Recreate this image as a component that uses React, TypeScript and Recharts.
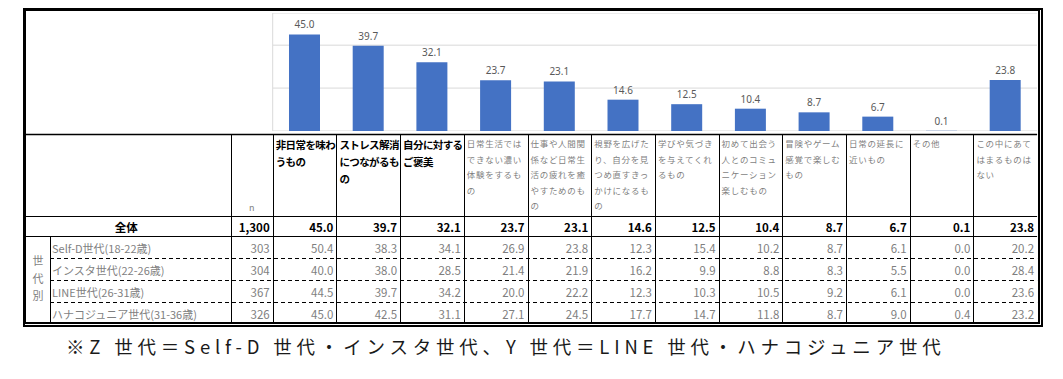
import { BarChart, Bar, XAxis, YAxis, CartesianGrid, LabelList } from 'recharts';

// 回答項目（表の見出し）
const categories = [
  '非日常を味わうもの',
  'ストレス解消につながるもの',
  '自分に対するご褒美',
  '日常生活ではできない濃い体験をするもの',
  '仕事や人間関係など日常生活の疲れを癒やすためのもの',
  '視野を広げたり、自分を見つめ直すきっかけになるもの',
  '学びや気づきを与えてくれるもの',
  '初めて出会う人とのコミュニケーション楽しむもの',
  '冒険やゲーム感覚で楽しむもの',
  '日常の延長に近いもの',
  'その他',
  'この中にあてはまるものはない',
];
const highlightCount = 3;

const totalLabel = '全体';
const totalN = '1,300';
const totalValues = [45.0, 39.7, 32.1, 23.7, 23.1, 14.6, 12.5, 10.4, 8.7, 6.7, 0.1, 23.8];

const groupTitle = '世代別';
const groupLabels = ['Self-D世代(18-22歳)', 'インスタ世代(22-26歳)', 'LINE世代(26-31歳)', 'ハナコジュニア世代(31-36歳)'];
const groupN = [303, 304, 367, 326];
const selfDValues = [50.4, 38.3, 34.1, 26.9, 23.8, 12.3, 15.4, 10.2, 8.7, 6.1, 0.0, 20.2];
const instaValues = [40.0, 38.0, 28.5, 21.4, 21.9, 16.2, 9.9, 8.8, 8.3, 5.5, 0.0, 28.4];
const lineValues = [44.5, 39.7, 34.2, 20.0, 22.2, 12.3, 10.3, 10.5, 9.2, 6.1, 0.0, 23.6];
const hanakoValues = [45.0, 42.5, 31.1, 27.1, 24.5, 17.7, 14.7, 11.8, 8.7, 9.0, 0.4, 23.2];
const groupValues = [selfDValues, instaValues, lineValues, hanakoValues];

const yTicks = [0, 10, 20, 30, 40, 50, 55];
const footnote = '※Z 世代＝Self-D 世代・インスタ世代、Y 世代＝LINE 世代・ハナコジュニア世代';

// layout
const PLOT_L = 272.7;
const COL_W = 63.7;
const PLOT_T = 13;
const PLOT_H = 118;
const TABLE_T = 134;
const HEAD_B = 216;
const TOTAL_B = 236;
const ROW_H = 22;
const TABLE_B = 324;
const SUB_R = 50;
const N_L = 230.7;
const RIGHT = PLOT_L + COL_W * 12;

const JP = '"Noto Sans CJK JP", "Noto Sans", sans-serif';

const chartData = categories.map((name, i) => ({ name, value: totalValues[i] }));

function TableLines() {
  const vx = [N_L, PLOT_L, ...categories.slice(1).map((_, i) => PLOT_L + COL_W * (i + 1))];
  const dashY = [1, 2, 3].map((k) => TOTAL_B + ROW_H * k);
  return (
    <svg width={1063} height={379} style={{ position: 'absolute', left: 0, top: 0 }}>
      <line x1={PLOT_L} x2={PLOT_L} y1={PLOT_T} y2={131} stroke="#d9d9d9" />
      <line x1={24} x2={RIGHT} y1={TABLE_T + 0.5} y2={TABLE_T + 0.5} stroke="#000" strokeWidth={1.3} />
      <line x1={24} x2={RIGHT} y1={HEAD_B + 0.5} y2={HEAD_B + 0.5} stroke="#000" />
      <line x1={24} x2={RIGHT} y1={TOTAL_B + 0.5} y2={TOTAL_B + 0.5} stroke="#000" />
      {dashY.map((y) => (
        <line key={y} x1={SUB_R} x2={RIGHT} y1={y + 0.5} y2={y + 0.5} stroke="#000" strokeDasharray="4 3" />
      ))}
      {vx.map((x) => (
        <line key={x} x1={Math.round(x) + 0.5} x2={Math.round(x) + 0.5} y1={TABLE_T} y2={TABLE_B} stroke="#000" />
      ))}
      <line x1={SUB_R + 0.5} x2={SUB_R + 0.5} y1={TOTAL_B} y2={TABLE_B} stroke="#000" />
    </svg>
  );
}

export default function App() {
  return (
    <div style={{ position: 'absolute', left: 0, top: 0, width: 1063, height: 379, background: '#fff', fontFamily: JP }}>
      <div style={{ position: 'absolute', left: PLOT_L, top: PLOT_T }}>
        <BarChart width={COL_W * 12} height={PLOT_H} data={chartData} margin={{ top: 0, right: 0, bottom: 0, left: 0 }} barSize={31}>
          <CartesianGrid vertical={false} stroke="#d9d9d9" />
          <XAxis dataKey="name" hide />
          <YAxis hide domain={[0, 55]} ticks={yTicks} />
          <Bar dataKey="value" fill="#4472C4" isAnimationActive={false}>
            <LabelList
              dataKey="value"
              position="top"
              offset={6}
              formatter={(v: number) => v.toFixed(1)}
              fill="#595959"
              fontSize={10}
              fontFamily='"Noto Sans", sans-serif'
            />
          </Bar>
        </BarChart>
      </div>

      <TableLines />

      {/* outer frame */}
      <div
        style={{
          position: 'absolute',
          left: 23,
          top: 8,
          width: RIGHT + 6 - 23,
          height: TABLE_B + 3 - 8,
          boxSizing: 'border-box',
          borderLeft: '3px solid #000',
          borderTop: '3px solid #000',
          borderRight: '5px double #000',
          borderBottom: '5px double #000',
        }}
      />

      {/* header labels */}
      {categories.map((c, i) => {
        const bold = i < highlightCount;
        return (
          <div
            key={c}
            style={{
              position: 'absolute',
              left: PLOT_L + COL_W * i + 3,
              top: TABLE_T + (bold ? 1.5 : 2),
              width: COL_W - 4,
              fontSize: bold ? 10.5 : 8.5,
              letterSpacing: bold ? -0.6 : 0.7,
              lineHeight: bold ? '17px' : '15.5px',
              fontWeight: bold ? 700 : 400,
              color: bold ? '#000' : '#7f7f7f',
              lineBreak: 'anywhere',
              wordBreak: 'break-all',
            }}
          >
            {c}
          </div>
        );
      })}
      <div style={{ position: 'absolute', left: N_L, width: PLOT_L - N_L, top: 200, textAlign: 'center', fontSize: 9, color: '#7f7f7f', lineHeight: '16px' }}>
        n
      </div>

      {/* total row */}
      <div style={{ position: 'absolute', left: 26, width: N_L - 30, top: HEAD_B + 1, height: TOTAL_B - HEAD_B, lineHeight: `${TOTAL_B - HEAD_B}px`, textAlign: 'center', fontSize: 11.5, fontWeight: 700 }}>
        {totalLabel}
      </div>
      <div style={{ position: 'absolute', left: N_L, width: PLOT_L - N_L - 3, top: HEAD_B + 1, lineHeight: `${TOTAL_B - HEAD_B}px`, textAlign: 'right', fontSize: 11.5, fontWeight: 700 }}>
        {totalN}
      </div>
      {totalValues.map((v, i) => (
        <div key={i} style={{ position: 'absolute', left: PLOT_L + COL_W * i, width: COL_W - 3, top: HEAD_B + 1, lineHeight: `${TOTAL_B - HEAD_B}px`, textAlign: 'right', fontSize: 11.5, fontWeight: 700 }}>
          {v.toFixed(1)}
        </div>
      ))}

      {/* generation rows */}
      <div style={{ position: 'absolute', left: 26, width: SUB_R - 26, top: 252, textAlign: 'center', fontSize: 11, lineHeight: '17.5px', color: '#7f7f7f' }}>
        {groupTitle.split('').map((ch) => (
          <div key={ch}>{ch}</div>
        ))}
      </div>
      {groupLabels.map((g, r) => {
        const top = TOTAL_B + ROW_H * r + 1;
        return (
          <div key={g}>
            <div style={{ position: 'absolute', left: SUB_R + 2, top, lineHeight: `${ROW_H}px`, fontSize: 11, color: '#7f7f7f', whiteSpace: 'nowrap' }}>{g}</div>
            <div style={{ position: 'absolute', left: N_L, width: PLOT_L - N_L - 3, top, lineHeight: `${ROW_H}px`, textAlign: 'right', fontSize: 11.5, color: '#7f7f7f' }}>
              {groupN[r]}
            </div>
            {groupValues[r].map((v, i) => (
              <div key={i} style={{ position: 'absolute', left: PLOT_L + COL_W * i, width: COL_W - 3, top, lineHeight: `${ROW_H}px`, textAlign: 'right', fontSize: 11.5, color: '#7f7f7f' }}>
                {v.toFixed(1)}
              </div>
            ))}
          </div>
        );
      })}

      {/* footnote */}
      <div style={{ position: 'absolute', left: 66, top: 333, fontSize: 18.5, letterSpacing: 4.8, color: '#1a1a1a', whiteSpace: 'nowrap', lineHeight: '26px' }}>
        {footnote}
      </div>
    </div>
  );
}
